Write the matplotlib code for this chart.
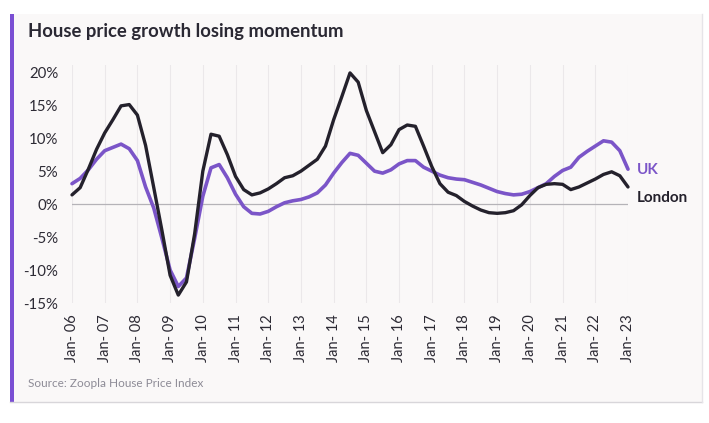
import numpy as np
import matplotlib
matplotlib.use("Agg")
import matplotlib.pyplot as plt
from matplotlib.patches import Rectangle

# quarterly readings, Jan 2006 .. Jan 2023 (annual % change)
quarters = np.arange(2006, 2023.01, 0.25)
london = [1.4, 2.5, 5.3, 8.3, 10.8, 12.8, 14.9, 15.1, 13.5, 8.9, 2.5, -4.0,
          -10.8, -13.8, -11.8, -4.5, 5.0, 10.6, 10.3, 7.5, 4.2, 2.2, 1.4, 1.7,
          2.3, 3.1, 4.0, 4.3, 5.0, 5.9, 6.8, 8.8, 12.8, 16.3, 19.9, 18.5,
          14.2, 11.0, 7.8, 9.0, 11.3, 12.0, 11.8, 8.8, 5.7, 3.1, 1.8, 1.3,
          0.4, -0.3, -0.9, -1.3, -1.4, -1.3, -1.0, -0.1, 1.3, 2.5, 3.0, 3.1,
          3.0, 2.2, 2.6, 3.2, 3.8, 4.5, 4.9, 4.3, 2.6]
uk = [3.1, 3.9, 5.2, 6.8, 8.1, 8.6, 9.1, 8.4, 6.6, 2.6, -0.6, -5.2,
      -10.0, -12.5, -11.2, -5.2, 1.2, 5.5, 6.0, 4.0, 1.5, -0.4, -1.4, -1.5,
      -1.1, -0.4, 0.2, 0.5, 0.7, 1.1, 1.7, 2.9, 4.7, 6.3, 7.7, 7.4,
      6.2, 5.0, 4.7, 5.2, 6.1, 6.6, 6.6, 5.6, 5.0, 4.4, 4.0, 3.8,
      3.7, 3.3, 2.9, 2.4, 1.9, 1.6, 1.4, 1.5, 1.9, 2.5, 3.1, 4.2,
      5.1, 5.6, 7.1, 8.0, 8.8, 9.6, 9.4, 8.1, 5.3]
years = list(range(2006, 2024))
year_labels = ["Jan- %02d" % (y % 100) for y in years]
y_ticks = [-15, -10, -5, 0, 5, 10, 15, 20]

purple = "#7b55c8"
dark = "#24212c"

plt.rcParams['font.family'] = ['Lato', 'DejaVu Sans']

W, H = 709, 423
fig = plt.figure(figsize=(W / 100, H / 100), dpi=100)
fig.patch.set_facecolor("white")

# card background, accent bar and borders
fig.patches.append(Rectangle((10 / W, 1 - 402 / H), 692 / W, 388 / H,
                             transform=fig.transFigure, facecolor="#faf8f8",
                             edgecolor="none", zorder=0))
fig.patches.append(Rectangle((10 / W, 1 - 402 / H), 4 / W, 388 / H,
                             transform=fig.transFigure, facecolor="#7a4fd3",
                             edgecolor="none", zorder=1))
fig.add_artist(plt.Line2D([10 / W, 702 / W], [1 - 402 / H, 1 - 402 / H],
                          transform=fig.transFigure, color="#d8d6da", lw=1))
fig.add_artist(plt.Line2D([702 / W, 702 / W], [1 - 402 / H, 1 - 14 / H],
                          transform=fig.transFigure, color="#e6e4e8", lw=1))

ax = fig.add_axes([72 / W, 1 - 303 / H, 556 / W, 238 / H])
ax.set_zorder(5)
ax.set_facecolor("none")
ax.set_xlim(2006, 2023)
ax.set_ylim(-15, 21.1)

for y in years:
    ax.axvline(y, color="#ebe8ea", lw=0.8, zorder=0)
ax.axhline(0, color="#b5b3b8", lw=0.9, zorder=1)

ax.plot(quarters, uk, color=purple, lw=2.6, clip_on=False, zorder=3,
        solid_capstyle="round", solid_joinstyle="round")
ax.plot(quarters, london, color=dark, lw=2.4, clip_on=False, zorder=4,
        solid_capstyle="round", solid_joinstyle="round")

ax.set_xticks(years)
ax.set_xticklabels(year_labels, rotation=90, fontsize=10.5, color="#2d2b35")
ax.set_yticks(y_ticks)
ax.set_yticklabels(["%d%%" % v for v in y_ticks], fontsize=10.8, color="#2d2b35")
ax.tick_params(length=0)
ax.tick_params(axis="y", pad=10)
ax.tick_params(axis="x", pad=8)
for s in ax.spines.values():
    s.set_visible(False)

ax.text(2023.27, uk[-1] - 0.2, "UK", color=purple, fontsize=11,
        fontweight="bold", va="center", ha="left")
ax.text(2023.27, 1.0, "London", color=dark, fontsize=11,
        fontweight="bold", va="center", ha="left")

fig.text(28 / W, 1 - 32 / H, "House price growth losing momentum",
         fontsize=13.3, fontweight="bold", color="#2a2833", va="center")
fig.text(28 / W, 1 - 383 / H, "Source: Zoopla House Price Index",
         fontsize=8.5, color="#8d8b96", va="center")

fig.savefig("out.png", dpi=100)
